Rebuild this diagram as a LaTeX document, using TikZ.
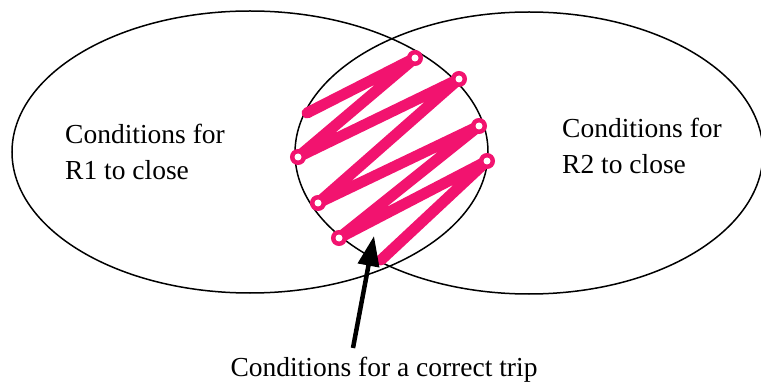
\documentclass[tikz,border=0pt]{standalone}
\usepackage{fontspec}
\setmainfont{Liberation Serif}
\usetikzlibrary{shapes.geometric, arrows.meta, calc}
\definecolor{lineMain}{HTML}{000000}
\definecolor{hatchPink}{HTML}{F2136F}
\tikzset{
  venn/.style={
    ellipse, draw=lineMain, line width=1.5pt, inner sep=0pt,
    minimum width=476pt, minimum height=282pt,
  },
  condtext/.style={
    font=\fontsize{27.5}{36}\selectfont, text=lineMain,
    align=left, inner sep=0pt, anchor=north west,
  },
  scribble/.style={
    draw=hatchPink, line width=11pt, line cap=round, line join=round,
  },
  scribbleloop/.style={
    draw=hatchPink, line width=3pt,
  },
  pointer/.style={
    -{Triangle[length=30pt, width=21pt]}, line width=4.5pt, draw=lineMain,
  },
}
\begin{document}
\begin{tikzpicture}[x=1pt, y=-1pt]
  \useasboundingbox (0,0) rectangle (761,385);

  % === The two sets ===
  \node[venn] (setR1) at (250,152) {};
  \node[venn, minimum width=468pt] (setR2) at (529,153) {};

  % === Set labels ===
  \node[condtext] (textR1) at (65,124) {Conditions for\\R1 to close};
  \node[condtext] (textR2) at (562,118) {Conditions for\\R2 to close};

  % === Hatching of the overlap ===
  \draw[scribble] (307,113) -- (415,58) -- (298,157) -- (459,79) -- (318,203)
    -- (479,126) -- (339,238) -- (487,161) -- (381,260);
  \foreach \px/\py in {415/58, 298/157, 459/79, 318/203, 479/126, 339/238, 487/161} {
    \fill[white] (\px,\py) circle (3.5);
    \draw[scribbleloop] (\px,\py) circle (6.5);
  }

  % === Caption and pointer ===
  \node[font=\fontsize{27.5}{36}\selectfont, anchor=base, inner sep=0pt] (trip) at (384,376) {Conditions for a correct trip};
  \coordinate (tripTail) at (353,348);
  \coordinate (tripTip) at (374,236);
  \draw[pointer] (tripTail) -- (tripTip);

\end{tikzpicture}
\end{document}
